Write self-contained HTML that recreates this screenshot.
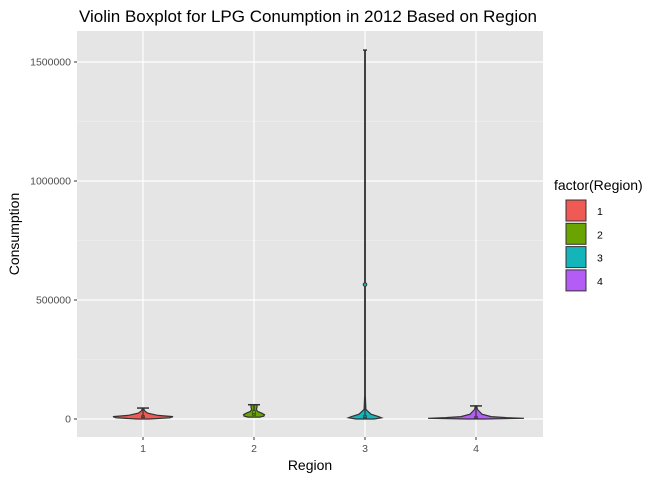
<!DOCTYPE html>
<html><head><meta charset="utf-8"><style>
body{margin:0;background:#fff;font-family:"Liberation Sans",sans-serif}
</style></head><body>
<svg id="c" width="672" height="480" xmlns="http://www.w3.org/2000/svg" font-family="Liberation Sans, sans-serif">
<text x="308" y="22" font-size="17" text-anchor="middle" fill="#000">Violin Boxplot for LPG Conumption in 2012 Based on Region</text>
<rect x="77" y="31" width="466" height="406" fill="#e5e5e5"/>
<g id="grid"></g><g id="marks"></g><g id="axes"></g>
<text x="310" y="470" font-size="14" text-anchor="middle">Region</text>
<text transform="translate(19,234) rotate(-90)" font-size="14" text-anchor="middle">Consumption</text>
<text x="554" y="190" font-size="14">factor(Region)</text>
<g id="legend"></g>
</svg>
<script>
const categories=["1","2","3","4"];
const fills=["#f05a55","#6aa400","#14b4bb","#b45cf5"];
const yTicks=[0,500000,1000000,1500000];
const violinValues=[[0,5000,10000,15000,25000,35000,46000],[8000,12000,18000,25000,32000,40000,50000,60000],[0,5000,10000,20000,30000,40000,100000,565000,1550000],[0,3000,6000,10000,20000,40000,55000]];
const violinWidths=[[0.2,0.9,1,0.5,0.15,0.05,0.02],[0.2,0.33,0.35,0.25,0.12,0.08,0.1,0.1],[0.3,0.55,0.45,0.2,0.12,0.03,0.01,0.01,0.01],[0.3,1.6,1,0.5,0.2,0.05,0.02]];
const boxQ1=[5000,15000,4000,2000],boxMed=[9000,22000,8000,5000],boxQ3=[14000,35000,15000,10000],whiskerMax=[46000,60000,1550000,55000],outliers=[[],[],[565000],[]];
const x=i=>143+i*111, y=v=>419-v*0.000238, W=30;
const ns="http://www.w3.org/2000/svg";
function mk(t,a,p){const e=document.createElementNS(ns,t);for(const k in a)e.setAttribute(k,a[k]);document.getElementById(p).appendChild(e);return e;}
for(let i=0;i<yTicks.length-1;i++){const g=mk('line',{x1:77,x2:543,y1:y((yTicks[i]+yTicks[i+1])/2),y2:y((yTicks[i]+yTicks[i+1])/2),stroke:'#f2f2f2','stroke-width':0.6},'grid');}
yTicks.forEach(t=>{const g=mk('line',{x1:77,x2:543,y1:y(t),y2:y(t),stroke:'#fff','stroke-width':1.2},'grid');
const tk=mk('line',{x1:74,x2:77,y1:y(t),y2:y(t),stroke:'#333'},'axes');
const tx=mk('text',{x:71,y:y(t)+3.5,'font-size':10.5,'text-anchor':'end',fill:'#4d4d4d'},'axes');tx.textContent=t;});
categories.forEach((c,i)=>{const g=mk('line',{x1:x(i),x2:x(i),y1:31,y2:437,stroke:'#fff','stroke-width':1.2},'grid');
const tk=mk('line',{x1:x(i),x2:x(i),y1:437,y2:440,stroke:'#333'},'axes');
const tx=mk('text',{x:x(i),y:452,'font-size':10.5,'text-anchor':'middle',fill:'#4d4d4d'},'axes');tx.textContent=c;
const vv=violinValues[i],ww=violinWidths[i];let r=[],l=[];
vv.forEach((v,j)=>{r.push((x(i)+ww[j]*W).toFixed(1)+','+y(v).toFixed(1));l.unshift((x(i)-ww[j]*W).toFixed(1)+','+y(v).toFixed(1));});
const p=mk('polygon',{points:r.concat(l).join(' '),fill:fills[i],stroke:'#333','stroke-width':1.2},'marks');
const wl=mk('line',{x1:x(i),x2:x(i),y1:y(boxQ3[i]),y2:y(whiskerMax[i]),stroke:'#333','stroke-width':1.2},'marks');
const cw=i==2?2:6;
const cap=mk('line',{x1:x(i)-cw,x2:x(i)+cw,y1:y(whiskerMax[i]),y2:y(whiskerMax[i]),stroke:'#333','stroke-width':1.5},'marks');
const b=mk('rect',{x:x(i)-1.5,y:y(boxQ3[i]),width:3,height:y(boxQ1[i])-y(boxQ3[i]),fill:fills[i],stroke:'#333','stroke-width':0.6},'marks');
const m=mk('line',{x1:x(i)-1.5,x2:x(i)+1.5,y1:y(boxMed[i]),y2:y(boxMed[i]),stroke:'#333','stroke-width':1},'marks');
outliers[i].forEach(o=>{const d=mk('circle',{cx:x(i),cy:y(o),r:1.8,fill:fills[i],stroke:'#333'},'marks');});
const k=mk('rect',{x:566,y:200+i*23.3,width:20,height:21,fill:fills[i],stroke:'#333','stroke-width':1},'legend');
const lt=mk('text',{x:597,y:215+i*23.3,'font-size':10.5,fill:'#000'},'legend');lt.textContent=c;});
</script>
</body></html>
